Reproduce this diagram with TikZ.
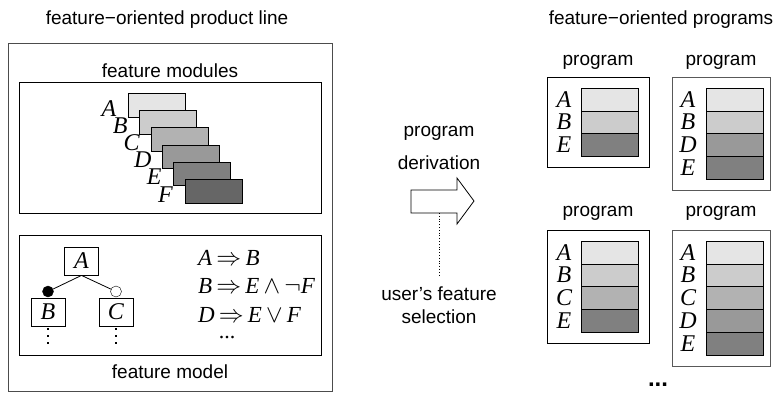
\documentclass[tikz,border=0pt]{standalone}
\usepackage{fontspec}
\setmainfont{Liberation Sans}
\newfontfamily\serif{Liberation Serif}
\begin{document}
\begin{tikzpicture}[x=1pt,y=-1pt,
  lbl/.style={font=\fontsize{19}{22}\selectfont, inner sep=0pt},
  var/.style={font=\fontsize{24}{26}\selectfont\serif\itshape, inner sep=0pt},
  formula/.style={font=\fontsize{23}{26}\selectfont\serif, inner sep=0pt, anchor=west},
  frame/.style={draw, line width=0.8pt},
  modbox/.style={draw, line width=0.8pt, anchor=north west, minimum width=57pt, minimum height=23.5pt, inner sep=0pt},
  rowbox/.style={draw, line width=0.8pt, anchor=north west, minimum width=57pt, minimum height=22.7pt, inner sep=0pt},
  tbox/.style={draw, line width=0.8pt, minimum width=34pt, minimum height=28pt, inner sep=0pt, font=\fontsize{24}{26}\selectfont\serif\itshape},
  dotline/.style={line width=2pt, dash pattern=on 2pt off 5pt},
  conn/.style={line width=0.8pt}
]
\useasboundingbox (0,0) rectangle (779,392);

% ---------- left: product line ----------
\node[lbl] (tPL) at (167,20) {feature−oriented product line};
\draw[frame, draw=black!70] (8,43) rectangle (332,391);
\node[lbl] (tFM) at (170,71) {feature modules};
\draw[frame] (19,82) rectangle (321,213);

\foreach \l/\f [count=\k from 0] in {A/10,B/20,C/30,D/40,E/50,F/60}{
  \node[modbox, fill=black!\f] (m\l) at ({128+11.3*\k},{93+17.2*\k}) {};
  \node[var] (lm\l) at ([shift={(-19pt,9pt)}]m\l.south west) {\l};
}

% feature model
\draw[frame] (19,235) rectangle (321,355);
\node[lbl] (tFMo) at (170,372) {feature model};
\node[tbox] (tA) at (81.5,261) {A};
\node[tbox] (tB) at (48,312) {B};
\node[tbox] (tC) at (116,312) {C};
\node[circle, draw, fill=black, minimum size=11pt, inner sep=0pt] (cB) at (48,291.5) {};
\node[circle, draw, fill=white, minimum size=11pt, inner sep=0pt] (cC) at (116,291.5) {};
\draw[conn] (tA.south) -- (cB);
\draw[conn] (tA.south) -- (cC);
\coordinate (dB) at (48,344);
\coordinate (dC) at (116,344);
\draw[dotline] ([yshift=-2pt]tB.south) -- (dB);
\draw[dotline] ([yshift=-2pt]tC.south) -- (dC);

\node[formula] (f1) at (198,258) {\textit{A}$\,\Rightarrow\,$\textit{B}};
\node[formula] (f2) at (198,286) {\textit{B}$\,\Rightarrow\,$\textit{E}$\,\wedge\,\neg$\textit{F}};
\node[formula] (f3) at (198,315) {\textit{D}$\,\Rightarrow\,$\textit{E}$\,\vee\,$\textit{F}};
\node[font=\fontsize{22}{24}\selectfont\serif, inner sep=0pt] (f4) at (227,338) {...};

% ---------- middle: derivation arrow ----------
\node[lbl] (tP) at (439,133) {program};
\node[lbl] (tD) at (439,163) {derivation};
\draw[line width=0.8pt] (411,190) -- (457,190) -- (457,178) -- (474,201) -- (457,224) -- (457,213) -- (411,213) -- cycle;
\coordinate (arrBot) at (439,213);
\coordinate (selTop) at (439,277);
\draw[line width=0.8pt, dotted] (arrBot) -- (selTop);
\node[lbl] (tU) at (439,294) {user’s feature};
\node[lbl] (tS) at (439,317) {selection};

% ---------- right: programs ----------
\node[lbl] (tFP) at (661,20) {feature−oriented programs};

% program 1
\node[lbl] (pl1) at (598,62) {program};
\draw[frame] (547,77) rectangle (649,167);
\foreach \l/\f [count=\k from 0] in {A/10,B/20,E/50}{
  \node[rowbox, fill=black!\f] (p1\l) at (581,{88+22.7*\k}) {};
  \node[var] (p1l\l) at (564,{88+22.7*\k+11.35}) {\l};
}
% program 2
\node[lbl] (pl2) at (721,62) {program};
\draw[frame, draw=black!65] (672,77) rectangle (770,190);
\foreach \l/\f [count=\k from 0] in {A/10,B/20,D/40,E/50}{
  \node[rowbox, fill=black!\f] (p2\l) at (706,{88+22.7*\k}) {};
  \node[var] (p2l\l) at (688,{88+22.7*\k+11.35}) {\l};
}
% program 3
\node[lbl] (pl3) at (598,213) {program};
\draw[frame] (547,230) rectangle (649,343);
\foreach \l/\f [count=\k from 0] in {A/10,B/20,C/30,E/50}{
  \node[rowbox, fill=black!\f] (p3\l) at (581,{241+22.7*\k}) {};
  \node[var] (p3l\l) at (564,{241+22.7*\k+11.35}) {\l};
}
% program 4
\node[lbl] (pl4) at (721,213) {program};
\draw[frame, draw=black!65] (672,230) rectangle (770,366);
\foreach \l/\f [count=\k from 0] in {A/10,B/20,C/30,D/40,E/50}{
  \node[rowbox, fill=black!\f] (p4\l) at (706,{241+22.7*\k}) {};
  \node[var] (p4l\l) at (688,{241+22.7*\k+11.35}) {\l};
}
\node[font=\fontsize{24}{26}\selectfont\bfseries, inner sep=0pt] (more) at (658,385) {...};
\end{tikzpicture}
\end{document}
